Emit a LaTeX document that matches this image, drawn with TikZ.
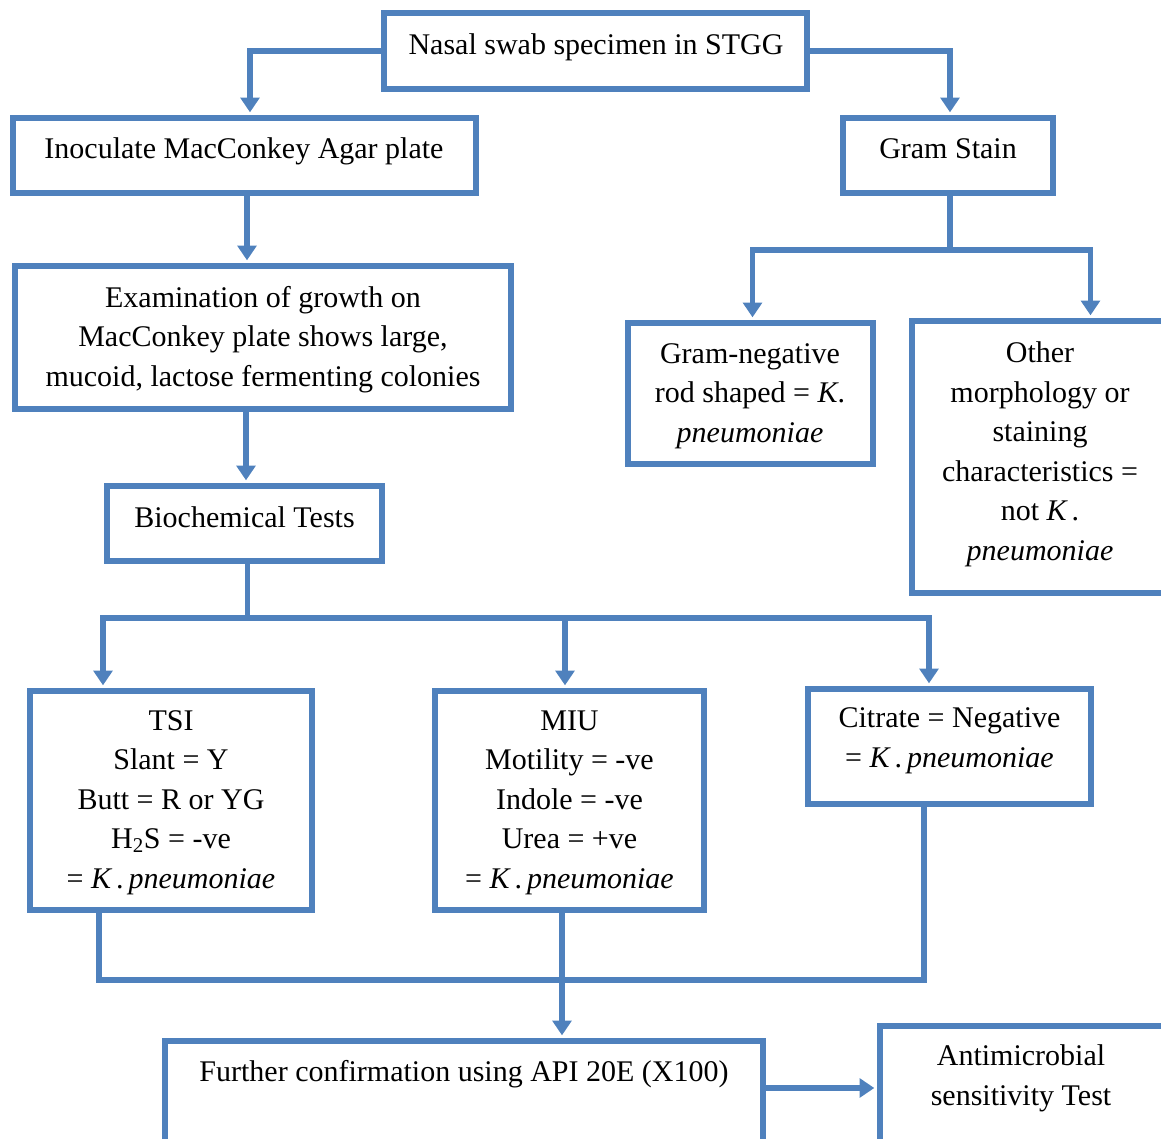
\documentclass[tikz,border=0pt]{standalone}
\usepackage{fontspec}
\setmainfont{Liberation Serif}
\usetikzlibrary{arrows.meta,fit}
\definecolor{boxblue}{HTML}{4F81BD}
\begin{document}
\begin{tikzpicture}[x=0.75pt,y=-0.75pt,
  box/.style={draw=boxblue, line width=4.5pt, inner sep=0pt},
  conn/.style={draw=boxblue, line width=4pt},
  arr/.style={conn, -{Triangle[width=14pt,length=11pt]}, shorten >=2pt},
  txt/.style={align=center, inner sep=0pt, anchor=base, font=\fontsize{22.5}{29.6}\selectfont}]
\useasboundingbox (0,0) rectangle (1161,1139);
\clip (0,0) rectangle (1161,1139);
% boxes
\node[box, fit={(384,13) (807,89)}] (nasal) {};
\node[box, fit={(13,118) (476,193)}] (inoc) {};
\node[box, fit={(843,118) (1053,193)}] (gram) {};
\node[box, fit={(15,266) (511,409)}] (exam) {};
\node[box, fit={(107,486) (382,561)}] (bio) {};
\node[box, fit={(628,323) (873,464)}] (gneg) {};
\node[box, fit={(912,321) (1168,593)}] (other) {};
\node[box, fit={(30,691) (312,910)}] (tsi) {};
\node[box, fit={(435,691) (704,910)}] (miu) {};
\node[box, fit={(808,689) (1091,804)}] (cit) {};
\node[box, fit={(165,1041) (763,1162)}] (fur) {};
\node[box, fit={(880,1026) (1164,1162)}] (anti) {};
% texts (multi-line nodes: base = baseline of last line)
\node[txt] (tnasal) at (596,54) {Nasal swab specimen in STGG};
\node[txt] (tinoc) at (244,158) {Inoculate MacConkey Agar plate};
\node[txt] (tgram) at (948,158) {Gram Stain};
\node[txt] (texam) at (263,386) {Examination of growth on\\MacConkey plate shows large,\\mucoid, lactose fermenting colonies};
\node[txt] (tbio) at (244.5,527) {Biochemical Tests};
\node[txt] (tgneg) at (750,442) {Gram-negative\\rod shaped = \textit{K}.\\\textit{pneumoniae}};
\node[txt] (tother) at (1040,560) {Other\\morphology or\\staining\\characteristics =\\not \textit{K\,}.\\\textit{pneumoniae}};
\node[txt] (ttsi) at (171,888) {TSI\\Slant = Y\\Butt = R or YG\\H\textsubscript{2}S = -ve\\= \textit{K\,}.\,\textit{pneumoniae}};
\node[txt] (tmiu) at (569.5,888) {MIU\\Motility = -ve\\Indole = -ve\\Urea = +ve\\= \textit{K\,}.\,\textit{pneumoniae}};
\node[txt] (tcit) at (949.5,767) {Citrate = Negative\\= \textit{K\,}.\,\textit{pneumoniae}};
\node[txt] (tfur) at (464,1081) {Further confirmation using API 20E (X100)};
\node[txt] (tanti) at (1021,1105) {Antimicrobial\\sensitivity Test};
% helper coordinates
\coordinate (c1) at (250,0);
\coordinate (c2) at (950,0);
\coordinate (c3) at (247,0);
\coordinate (c4) at (246,0);
\coordinate (s1) at (247.5,618);
\coordinate (t1) at (103,0);
\coordinate (t2) at (565,0);
\coordinate (t3) at (929,0);
\coordinate (g1) at (950,250);
\coordinate (g2) at (752.5,0);
\coordinate (g3) at (1090.5,0);
\coordinate (b1) at (99,0);
\coordinate (b2) at (562,980);
\coordinate (b3) at (924,0);
\coordinate (f1) at (0,1088);
% connectors
\draw[arr] (nasal.west) -| (c1 |- inoc.north);
\draw[arr] (nasal.east) -| (c2 |- gram.north);
\draw[arr] (c3 |- inoc.south) -- (c3 |- exam.north);
\draw[arr] (c4 |- exam.south) -- (c4 |- bio.north);
\draw[conn] (s1 |- bio.south) -- (s1);
\draw[arr] (s1) -| (t1 |- tsi.north);
\draw[arr] (s1) -| (t2 |- miu.north);
\draw[arr] (s1) -| (t3 |- cit.north);
\draw[conn] (g1 |- gram.south) -- (g1);
\draw[arr] (g1) -| (g2 |- gneg.north);
\draw[arr] (g1) -| (g3 |- other.north);
\draw[conn] (b1 |- tsi.south) |- (b3 |- b2) -- (b3 |- cit.south);
\draw[arr] (b2 |- miu.south) -- (b2 |- fur.north);
\draw[arr] (fur.east |- f1) -- (anti.west |- f1);
\end{tikzpicture}
\end{document}
